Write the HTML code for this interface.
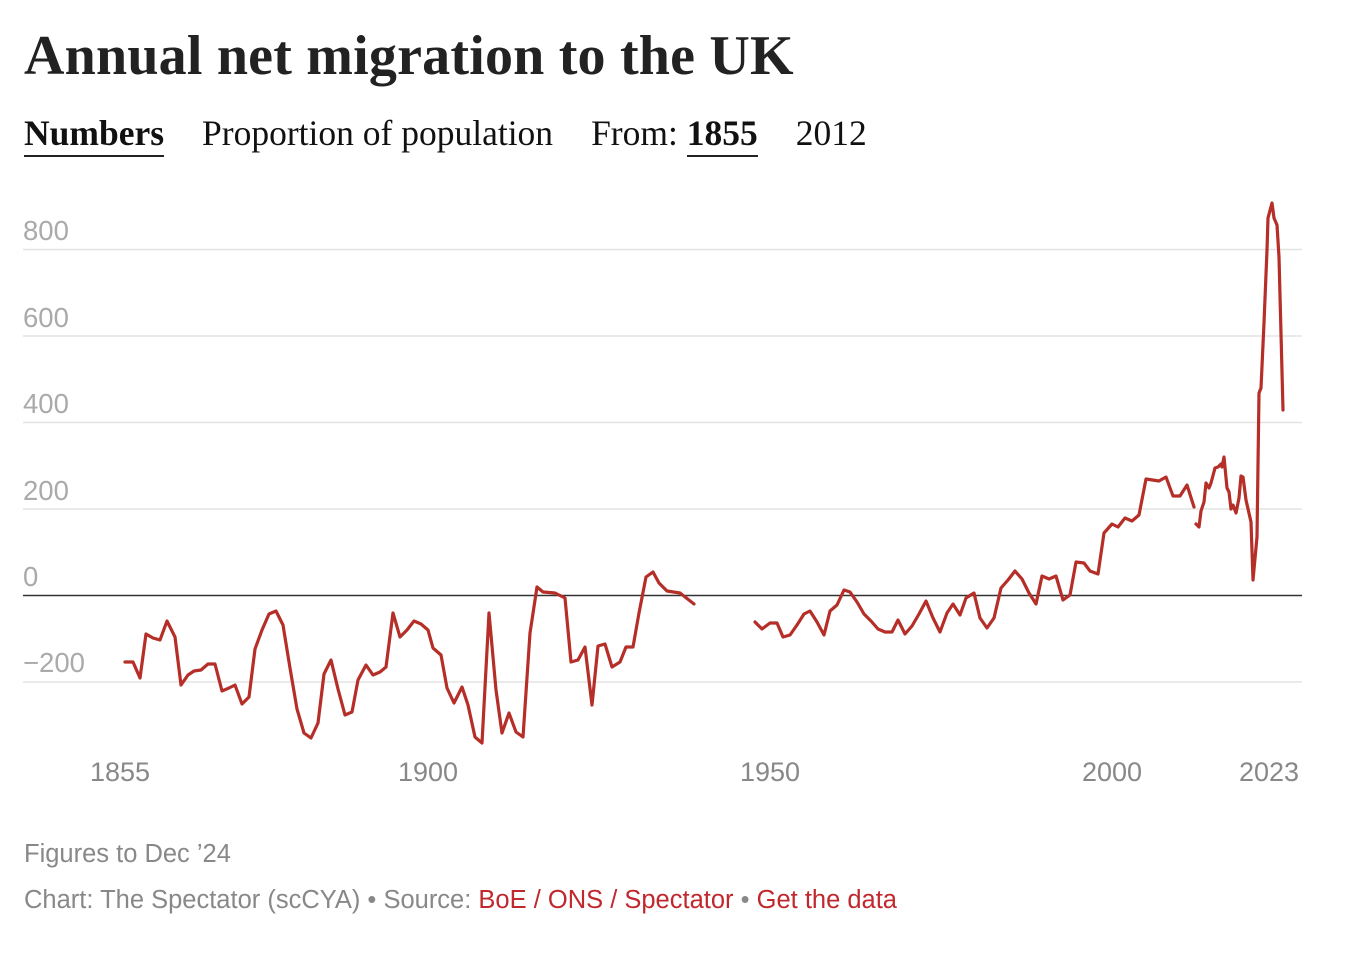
<!DOCTYPE html>
<html><head><meta charset="utf-8"><style>
body{margin:0;background:#fff;width:1352px;height:956px;overflow:hidden;position:relative;font-family:"Liberation Sans",sans-serif}
.t{position:absolute;white-space:nowrap}
</style></head><body>
<div class="t" style="left:24px;top:24px;font-family:'Liberation Serif',serif;font-weight:bold;font-size:56px;color:#222;letter-spacing:0.2px">Annual net migration to the UK</div>
<div class="t" style="left:24px;top:112px;font-family:'Liberation Serif',serif;font-size:35.5px;color:#111">
<span style="font-weight:bold;border-bottom:2px solid #222;padding-bottom:2px">Numbers</span><span style="margin-left:38px">Proportion of population</span><span style="margin-left:38px">From: </span><span style="font-weight:bold;border-bottom:2px solid #222;padding-bottom:2px">1855</span><span style="margin-left:38px">2012</span></div>
<svg width="1352" height="956" style="position:absolute;left:0;top:0">
<g stroke="#e3e3e3" stroke-width="1.5">
<line x1="23" x2="1302" y1="249.5" y2="249.5"/><line x1="23" x2="1302" y1="336" y2="336"/><line x1="23" x2="1302" y1="422.5" y2="422.5"/><line x1="23" x2="1302" y1="509" y2="509"/><line x1="23" x2="1302" y1="682" y2="682"/></g>
<line x1="23" x2="1302" y1="595.5" y2="595.5" stroke="#333" stroke-width="1.5"/>
<g font-family="Liberation Sans,sans-serif" font-size="27.5" fill="#aaa">
<text x="23" y="240">800</text><text x="23" y="327">600</text><text x="23" y="413">400</text><text x="23" y="500">200</text><text x="23" y="586">0</text><text x="23" y="672">−200</text></g>
<g font-family="Liberation Sans,sans-serif" font-size="27" fill="#888" text-anchor="middle">
<text x="120" y="781">1855</text><text x="428" y="781">1900</text><text x="770" y="781">1950</text><text x="1112" y="781">2000</text><text x="1269" y="781">2023</text></g>
<g fill="none" stroke="#b52e28" stroke-width="3.2" stroke-linejoin="round" stroke-linecap="round">
<polyline points="125,662 133,662 140,678 146,634 153,638 160,640 167,621 175,637 181,685 188,675 194,671 201,670 208,664 215,664 222,691 229,688 235,685 242,704 249,697 255,649 262,630 269,614 276,611 283,625 290,668 297,709 304,733 311,738 318,723 324,674 331,660 338,689 345,715 352,712 358,680 366,665 373,675 380,672 386,667 393,613 400,637 407,630 414,621 421,624 428,630 433,648 441,655 447,688 454,703 462,687 468,705 475,737 482,743 489,613 496,690 502,733 509,713 516,732 523,737 530,633 537,587 543,592 555,593 565,598 571,662 578,660 585,647 592,705 598,646 605,644 612,667 620,662 626,647 633,647 639,613 646,577 653,572 659,583 667,591 680,593 694,604"/>
<polyline points="755,622 762,629 770,623 777,623 783,637 790,635 797,625 804,614 810,611 817,622 824,635 830,611 837,605 844,590 850,592 857,602 864,614 871,621 878,629 885,632 892,632 898,620 905,634 912,626 919,614 926,601 933,618 940,632 947,613 953,604 960,615 966,598 974,593 980,618 987,628 994,618 1001,588 1008,580 1015,571 1022,579 1029,593 1036,604 1042,576 1049,579 1056,576 1063,600 1070,595 1076,562 1084,563 1090,571 1098,574 1104,533 1112,524 1118,527 1125,518 1132,521 1139,515 1146,479 1159,481 1166,477 1173,496 1180,496 1187,485 1194,507"/>
<polyline points="1196,524 1199,527 1201,511 1204,502 1206,483 1209,488 1211,483 1215,468 1218,467 1221,464 1222,467 1224,457 1227,488 1229,492 1231,509 1233,505 1236,513 1239,498 1241,476 1243,477 1246,500 1251,522 1253,580 1257,537 1259,393 1261,388 1264,323 1267,250 1268,218 1272,203 1274,218 1277,225 1279,257 1283,410"/>
</g></svg>
<div class="t" style="left:24px;top:840px;font-size:25.5px;color:#888">Figures to Dec ’24</div>
<div class="t" style="left:24px;top:886px;font-size:25.5px;color:#888">Chart: The Spectator (scCYA) • Source: <span style="color:#c0282d">BoE / ONS / Spectator</span> • <span style="color:#c0282d">Get the data</span></div>
</body></html>
